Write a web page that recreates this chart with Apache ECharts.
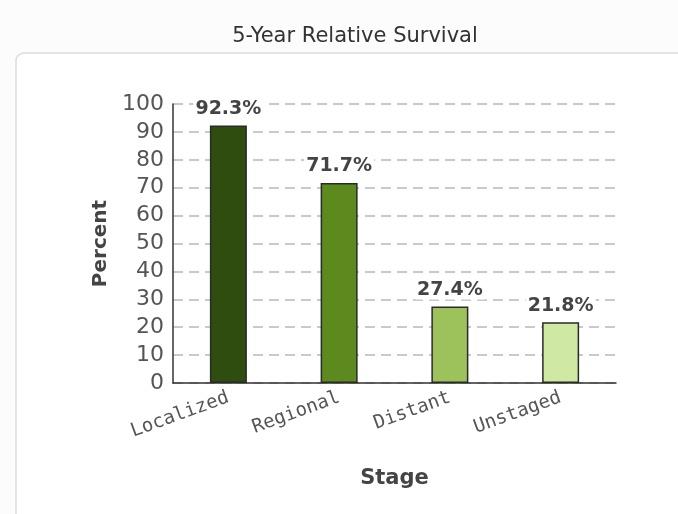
<!DOCTYPE html>
<html>
<head>
<meta charset="utf-8">
<script src="https://cdn.jsdelivr.net/npm/echarts@6/dist/echarts.min.js"></script>
<style>
	html, body { margin: 0; padding: 0; background: #fcfcfc; }
	#chart { width: 678px; height: 514px; }
</style>
</head>
<body>
<div id="chart"></div>
<script>
var stages = ['Localized', 'Regional', 'Distant', 'Unstaged'];
var survival = [92.3, 71.7, 27.4, 21.8];
var barColors = ['#2e4d0f', '#5c8a1e', '#9dc25c', '#cfe8a2'];
var yTicks = [0, 10, 20, 30, 40, 50, 60, 70, 80, 90, 100];

var myChart = echarts.init(document.getElementById('chart'));

var option = {
	backgroundColor: '#fcfcfc',
	animation: false,
	title: {
		text: '5-Year Relative Survival',
		left: 350,
		top: 21,
		textAlign: 'center',
		textStyle: {
			color: '#333',
			fontFamily: 'DejaVu Sans',
			fontWeight: 'normal',
			fontSize: 21
		}
	},
	// panel behind the plot
	graphic: [{
		type: 'rect',
		z: -10,
		shape: { x: 16, y: 53, width: 700, height: 500, r: 8 },
		style: { fill: '#ffffff', stroke: '#dcdcdc', lineWidth: 1.5 }
	}],
	grid: {
		left: 173,
		right: 62,
		top: 104,
		bottom: 131
	},
	xAxis: {
		type: 'category',
		data: stages,
		name: 'Stage',
		nameLocation: 'middle',
		nameGap: 85,
		nameTextStyle: {
			color: '#444',
			fontFamily: 'DejaVu Sans',
			fontWeight: 'bold',
			fontSize: 21
		},
		axisLine: { lineStyle: { color: '#333', width: 1.5 } },
		axisTick: { show: false },
		axisLabel: {
			rotate: 20,
			margin: 14,
			color: '#555',
			fontFamily: 'DejaVu Sans Mono',
			fontSize: 19
		}
	},
	yAxis: {
		type: 'value',
		min: yTicks[0],
		max: yTicks[yTicks.length - 1],
		interval: 10,
		name: 'Percent',
		nameLocation: 'middle',
		nameGap: 54,
		nameTextStyle: {
			color: '#444',
			fontFamily: 'DejaVu Sans',
			fontWeight: 'bold',
			fontSize: 20
		},
		axisLine: { show: true, lineStyle: { color: '#333', width: 1.5 } },
		axisTick: { show: false },
		axisLabel: {
			margin: 9,
			color: '#555',
			fontFamily: 'DejaVu Sans',
			fontSize: 22
		},
		splitLine: {
			lineStyle: { color: '#b8b8b8', type: [10, 6], width: 1.5 }
		}
	},
	series: [{
		type: 'bar',
		barWidth: 37,
		data: survival.map(function(v, i) {
			return {
				value: v,
				itemStyle: { color: barColors[i], borderColor: '#2a2a2a', borderWidth: 1.5 }
			};
		}),
		label: {
			show: true,
			position: 'top',
			distance: 7,
			formatter: '{c}%',
			color: '#444',
			fontFamily: 'DejaVu Sans',
			fontWeight: 'bold',
			fontSize: 19,
			backgroundColor: '#fff',
			padding: [0, 2]
		}
	}]
};

myChart.setOption(option);
</script>
</body>
</html>
